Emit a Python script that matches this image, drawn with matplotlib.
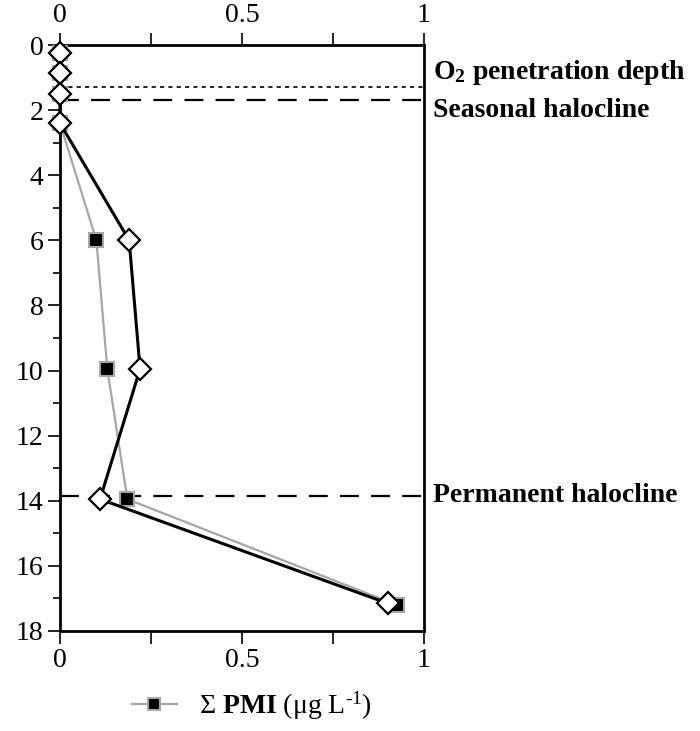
import matplotlib
matplotlib.use("Agg")
import matplotlib.pyplot as plt
from matplotlib.ticker import MultipleLocator
from matplotlib.lines import Line2D

plt.rcParams['font.family'] = ['Liberation Serif', 'DejaVu Serif']
plt.rcParams['mathtext.fontset'] = 'custom'
plt.rcParams['mathtext.rm'] = 'Liberation Serif'
plt.rcParams['mathtext.bf'] = 'Liberation Serif:bold'
plt.rcParams['mathtext.it'] = 'Liberation Serif:italic'

# Data
pmi_depth = [0.25, 0.85, 1.5, 2.4, 6.0, 9.95, 13.95, 17.2]
pmi_values = [0.0, 0.0, 0.0, 0.0, 0.10, 0.13, 0.185, 0.925]
other_depth = [0.25, 0.85, 1.5, 2.4, 6.0, 9.95, 13.95, 17.15]
other_values = [0.0, 0.0, 0.0, 0.0, 0.19, 0.22, 0.11, 0.90]

o2_depth = 1.3
seasonal_depth = 1.7
permanent_depth = 13.85

fig = plt.figure(figsize=(7, 7.31), dpi=100)
ax = fig.add_axes([0.0857, 0.1368, 0.52, 0.8016])

ax.plot(pmi_values, pmi_depth, color='#a6a6a6', lw=1.6, marker='s', ms=10,
        mfc='black', mec='#a6a6a6', mew=1.5, zorder=3, clip_on=False)
ax.plot(other_values, other_depth, color='black', lw=2.2, marker='D', ms=11,
        mfc='white', mec='black', mew=1.6, zorder=4, clip_on=False)

ax.plot([0, 1.0], [o2_depth, o2_depth], color='black', lw=1.2, ls=(0, (2.5, 2.5)), zorder=2, clip_on=False)
ax.plot([0, 1.015], [seasonal_depth, seasonal_depth], color='black', lw=1.6, ls=(0, (8.5, 5.5)), zorder=2, clip_on=False)
ax.plot([0, 1.015], [permanent_depth, permanent_depth], color='black', lw=1.6, ls=(0, (8.5, 5.5)), zorder=2, clip_on=False)

ax.set_xlim(0, 1)
ax.set_ylim(18, 0)

ax.xaxis.set_major_locator(MultipleLocator(0.5))
ax.xaxis.set_minor_locator(MultipleLocator(0.25))
ax.yaxis.set_major_locator(MultipleLocator(2))
ax.yaxis.set_minor_locator(MultipleLocator(1))
ax.xaxis.set_major_formatter(plt.FuncFormatter(lambda v, p: f"{v:g}"))

ax.tick_params(axis='x', which='both', top=True, bottom=True, labeltop=True,
               labelbottom=True, direction='out', width=1.2, labelsize=20, color='black')
ax.tick_params(axis='x', which='major', length=9, pad=3)
ax.tick_params(axis='x', which='minor', length=9)
ax.tick_params(axis='y', which='both', left=True, right=False, direction='out',
               width=1.2, labelsize=20)
ax.tick_params(axis='y', which='major', length=9, pad=3)
ax.tick_params(axis='y', which='minor', length=5)

for s in ax.spines.values():
    s.set_linewidth(2)
    s.set_color('black')

ax.text(1.025, 0.85, r"O$_\mathbf{2}$ penetration depth", transform=ax.transData,
        fontsize=20, fontweight='bold', va='center', ha='left')
ax.text(1.025, 2.0, "Seasonal halocline", transform=ax.transData,
        fontsize=20, fontweight='bold', va='center', ha='left')
ax.text(1.025, permanent_depth, "Permanent halocline", transform=ax.transData,
        fontsize=20, fontweight='bold', va='center', ha='left')

handle = Line2D([], [], color='#a6a6a6', lw=1.6, marker='s', ms=9,
                mfc='black', mec='#a6a6a6', mew=1.5)
fig.legend([handle], [r"$\Sigma$ $\mathbf{PMI}$ (μg L$^{\mathrm{‐1}}$)"], loc='center',
           bbox_to_anchor=(0.36, 0.034), frameon=False, fontsize=20,
           handlelength=1.6, handletextpad=0.8)

fig.savefig("out.png", dpi=100)
